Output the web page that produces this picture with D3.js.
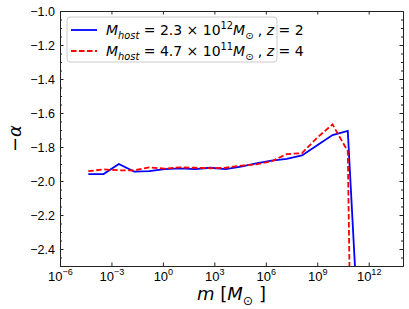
<!DOCTYPE html>
<html>
<head>
<meta charset="utf-8">
<script src="https://cdn.jsdelivr.net/npm/d3@7/dist/d3.min.js"></script>
<style>
  body { margin: 0; background: #fff; }
  svg { display: block; font-family: 'DejaVu Sans', sans-serif; }
</style>
</head>
<body>
<div class="chart"></div>
<script>
'use strict';

// ---- data ----
// halo mass bins (log10 of m in solar masses)
var logMass = [-4.35, -3.46, -2.57, -1.68, -0.79, 0.10, 0.99, 1.88, 2.77, 3.66,
               4.55, 5.44, 6.33, 7.22, 8.11, 9.00, 9.89, 10.78, 11.67];

// slope -alpha, host 2.3e12 Msun at z=2 (last bin drops off the chart)
var alphaZ2 = [-1.959, -1.959, -1.900, -1.945, -1.942, -1.930, -1.926, -1.930, -1.922, -1.930,
               -1.915, -1.897, -1.880, -1.870, -1.850, -1.790, -1.730, -1.705, -3.40];

// slope -alpha, host 4.7e11 Msun at z=4
var alphaZ4 = [-1.942, -1.932, -1.937, -1.937, -1.920, -1.927, -1.920, -1.922, -1.925, -1.922,
               -1.910, -1.902, -1.885, -1.842, -1.836, -1.745, -1.667, -1.825, -8.0];

var xTicks = [1e-6, 1e-3, 1e0, 1e3, 1e6, 1e9, 1e12];
var yTicks = [-2.4, -2.2, -2.0, -1.8, -1.6, -1.4, -1.2, -1.0];
var yMinor = d3.range(-2.5, -0.999, 0.05);

var legendLabels = [
  [['M', 'i'], ['host', 'isub'], [' = 2.3 \u00d7 10', ''], ['12', 'sup'], ['M', 'i'], ['\u2299', 'sub'], [' , ', ''], ['z', 'i'], [' = 2', '']],
  [['M', 'i'], ['host', 'isub'], [' = 4.7 \u00d7 10', ''], ['11', 'sup'], ['M', 'i'], ['\u2299', 'sub'], [' , ', ''], ['z', 'i'], [' = 4', '']]
];

// ---- layout ----
var margin = { top: 11, right: 6, bottom: 43, left: 60 },
    width = 409 - margin.left - margin.right,
    height = 309 - margin.top - margin.bottom;

var x = d3.scaleLog().domain([1e-6, 1e14]).range([0, width]);
var y = d3.scaleLinear().domain([-2.5, -1.0]).range([height, 0]);

var svg = d3.select('.chart')
  .append('svg')
    .attr('width', 409)
    .attr('height', 309)
  .append('g')
    .attr('transform', 'translate(' + margin.left + ',' + margin.top + ')');

// writes matplotlib-style mathtext with tspans (italic, sub, sup)
function mathText(sel, segs, size) {
  var shift = 0;
  segs.forEach(function(s) {
    var style = s[1];
    var target = style.indexOf('sub') >= 0 ? 0.28 : (style.indexOf('sup') >= 0 ? -0.42 : 0);
    var t = sel.append('tspan')
      .attr('dy', ((target - shift) * size) + 'px')
      .text(s[0]);
    if (style.indexOf('sub') >= 0 || style.indexOf('sup') >= 0) t.style('font-size', (size * 0.7) + 'px');
    if (style.indexOf('i') === 0) t.style('font-style', 'italic');
    shift = target;
  });
}

// ---- lines (clipped to the axes box) ----
svg.append('clipPath').attr('id', 'clip')
  .append('rect').attr('width', width).attr('height', height);

var line = function(vals) {
  return d3.line()
    .x(function(d, i) { return x(Math.pow(10, logMass[i])); })
    .y(function(d) { return y(d); })(vals);
};

svg.append('path')
  .attr('clip-path', 'url(#clip)')
  .attr('d', line(alphaZ2))
  .attr('fill', 'none')
  .attr('stroke', '#0000ff')
  .attr('stroke-width', 1.8);

svg.append('path')
  .attr('clip-path', 'url(#clip)')
  .attr('d', line(alphaZ4))
  .attr('fill', 'none')
  .attr('stroke', '#ff0000')
  .attr('stroke-width', 1.8)
  .attr('stroke-dasharray', '5.5,2.5');

// ---- axes, ticks pointing inward on all four sides ----
var gx = svg.append('g')
  .attr('transform', 'translate(0,' + height + ')')
  .call(d3.axisBottom(x).tickValues(xTicks).tickSizeInner(-3.5).tickSizeOuter(0).tickFormat(function() { return ''; }));

// tick labels as 10^n with a real superscript
gx.selectAll('.tick text').each(function(d) {
  var t = d3.select(this)
    .attr('font-size', null)
    .attr('dy', null)
    .attr('y', 14.5)
    .style('font-size', '13px')
    .attr('fill', '#000');
  var e = Math.round(Math.log10(d));
  mathText(t, [['10', ''], [(e < 0 ? '\u2212' : '') + Math.abs(e), 'sup']], 13);
});

svg.append('g')
  .call(d3.axisTop(x).tickValues(xTicks).tickSizeInner(-3.5).tickSizeOuter(0).tickFormat(''));

var gy = svg.append('g')
  .call(d3.axisLeft(y).tickValues(yTicks).tickSizeInner(-3.5).tickSizeOuter(0).tickPadding(5)
    .tickFormat(function(d) { return d3.format('.1f')(d).replace('-', '\u2212'); }));
gy.selectAll('.tick text').attr('font-size', null).style('font-size', '12.5px').attr('fill', '#000');

svg.append('g')
  .call(d3.axisLeft(y).tickValues(yMinor).tickSizeInner(-2).tickSizeOuter(0).tickFormat(''));

svg.append('g')
  .attr('transform', 'translate(' + width + ',0)')
  .call(d3.axisRight(y).tickValues(yTicks).tickSizeInner(-3.5).tickSizeOuter(0).tickFormat(''));

svg.append('g')
  .attr('transform', 'translate(' + width + ',0)')
  .call(d3.axisRight(y).tickValues(yMinor).tickSizeInner(-2).tickSizeOuter(0).tickFormat(''));

svg.selectAll('.domain').attr('stroke', '#222');
svg.selectAll('.tick line').attr('stroke', '#222');

// ---- axis labels ----
var xl = svg.append('text')
  .attr('x', width / 2)
  .attr('y', height + 34)
  .attr('text-anchor', 'middle')
  .style('font-size', '18px');
mathText(xl, [['m', 'i'], [' [', ''], ['M', 'i'], ['\u2299', 'sub'], [' ]', '']], 18);

svg.append('text')
  .attr('transform', 'rotate(-90)')
  .attr('x', -height / 2)
  .attr('y', -39)
  .attr('text-anchor', 'middle')
  .style('font-size', '18px')
  .text('\u2212')
  .append('tspan')
    .style('font-style', 'italic')
    .text('\u03b1');

// ---- legend ----
var legend = svg.append('g').attr('transform', 'translate(7,6)');

legend.append('rect')
  .attr('width', 210)
  .attr('height', 45)
  .attr('rx', 3)
  .attr('fill', 'rgba(255,255,255,0.8)')
  .attr('stroke', '#ccc');

var legendColors = ['#0000ff', '#ff0000'];
var legendDash = [null, '5.5,2.5'];

legendLabels.forEach(function(lab, i) {
  var ly = 13 + i * 21;
  legend.append('line')
    .attr('x1', 4).attr('x2', 30)
    .attr('y1', ly).attr('y2', ly)
    .attr('stroke', legendColors[i])
    .attr('stroke-width', 1.8)
    .attr('stroke-dasharray', legendDash[i]);
  var t = legend.append('text')
    .attr('x', 39)
    .attr('y', ly + 5)
    .style('font-size', '14px');
  mathText(t, lab, 14);
});
</script>
</body>
</html>
